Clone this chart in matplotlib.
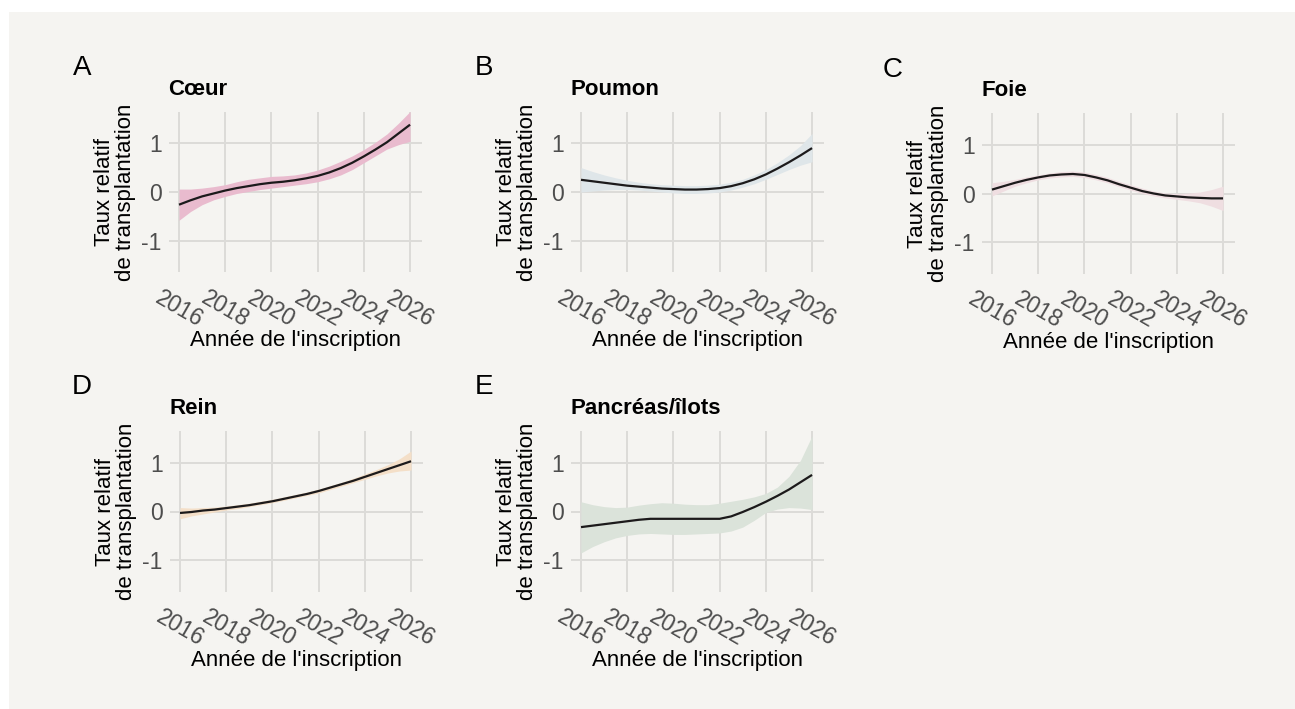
import matplotlib
matplotlib.use('Agg')
import matplotlib.pyplot as plt
from matplotlib.patches import Rectangle

# Palette
_BG = '#f5f4f1'
_GRID = '#dcdbd8'
_TICK = '#4d4d4d'
_LINE = '#1c1a1b'

plt.rcParams['font.family'] = ['Liberation Sans', 'DejaVu Sans']
plt.rcParams['axes.unicode_minus'] = False

years = [2016 + 0.5 * i for i in range(21)]
x_ticks = [2016, 2018, 2020, 2022, 2024, 2026]
y_ticks = [-1, 0, 1]

tags = ['A', 'B', 'C', 'D', 'E']
organs = ['Cœur', 'Poumon', 'Foie', 'Rein', 'Pancréas/îlots']
fills = ['#e9bbce', '#dfe6e9', '#efdee1', '#f4dfc8', '#dbe3da']

coeur = [-0.26, -0.17, -0.09, -0.03, 0.03, 0.08, 0.12, 0.16, 0.19, 0.21, 0.24,
         0.28, 0.33, 0.40, 0.49, 0.60, 0.73, 0.87, 1.02, 1.20, 1.38]
coeur_lo = [-0.58, -0.40, -0.26, -0.16, -0.09, -0.03, 0.01, 0.05, 0.08, 0.11, 0.14,
            0.17, 0.21, 0.27, 0.35, 0.46, 0.60, 0.74, 0.88, 0.97, 1.04]
coeur_hi = [0.06, 0.06, 0.08, 0.11, 0.15, 0.21, 0.26, 0.29, 0.32, 0.33, 0.35,
            0.39, 0.45, 0.53, 0.63, 0.74, 0.87, 1.02, 1.19, 1.41, 1.65]

poumon = [0.25, 0.22, 0.19, 0.16, 0.13, 0.11, 0.09, 0.07, 0.06, 0.05, 0.05,
          0.06, 0.08, 0.12, 0.18, 0.26, 0.36, 0.48, 0.61, 0.75, 0.90]
poumon_lo = [0.0, 0.02, 0.04, 0.05, 0.05, 0.04, 0.02, 0.0, -0.02, -0.03, -0.03,
             -0.02, 0.0, 0.04, 0.10, 0.17, 0.26, 0.36, 0.46, 0.55, 0.62]
poumon_hi = [0.50, 0.42, 0.35, 0.29, 0.24, 0.20, 0.17, 0.15, 0.14, 0.13, 0.13,
             0.14, 0.16, 0.20, 0.26, 0.35, 0.46, 0.60, 0.76, 0.95, 1.20]

foie = [0.08, 0.15, 0.22, 0.28, 0.33, 0.37, 0.39, 0.40, 0.38, 0.33, 0.27,
        0.19, 0.12, 0.05, 0.0, -0.04, -0.06, -0.08, -0.09, -0.10, -0.10]
foie_lo = [-0.05, 0.05, 0.15, 0.22, 0.28, 0.32, 0.34, 0.35, 0.33, 0.28, 0.22,
           0.14, 0.07, 0.0, -0.05, -0.09, -0.12, -0.15, -0.19, -0.26, -0.35]
foie_hi = [0.22, 0.25, 0.29, 0.34, 0.38, 0.42, 0.45, 0.46, 0.44, 0.39, 0.33,
           0.25, 0.18, 0.11, 0.05, 0.01, 0.0, 0.01, 0.03, 0.08, 0.15]

rein = [-0.03, -0.01, 0.02, 0.04, 0.07, 0.10, 0.13, 0.17, 0.21, 0.26, 0.31,
        0.36, 0.42, 0.49, 0.56, 0.63, 0.71, 0.79, 0.87, 0.95, 1.03]
rein_lo = [-0.15, -0.09, -0.05, -0.01, 0.03, 0.06, 0.10, 0.14, 0.18, 0.23, 0.28,
           0.33, 0.38, 0.45, 0.52, 0.59, 0.66, 0.73, 0.79, 0.83, 0.85]
rein_hi = [0.08, 0.07, 0.08, 0.09, 0.11, 0.14, 0.17, 0.21, 0.25, 0.30, 0.35,
           0.40, 0.46, 0.53, 0.60, 0.68, 0.77, 0.86, 0.96, 1.08, 1.24]

pancreas = [-0.32, -0.29, -0.26, -0.23, -0.20, -0.17, -0.15, -0.15, -0.15, -0.15, -0.15,
            -0.15, -0.15, -0.10, -0.01, 0.09, 0.20, 0.32, 0.45, 0.60, 0.75]
pancreas_lo = [-0.85, -0.72, -0.62, -0.54, -0.49, -0.46, -0.45, -0.46, -0.47, -0.47, -0.46,
               -0.45, -0.44, -0.40, -0.32, -0.18, -0.02, 0.05, 0.08, 0.07, 0.04]
pancreas_hi = [0.20, 0.14, 0.10, 0.08, 0.09, 0.13, 0.16, 0.18, 0.17, 0.15, 0.14,
               0.14, 0.17, 0.21, 0.25, 0.30, 0.37, 0.50, 0.72, 1.05, 1.55]

fits = [coeur, poumon, foie, rein, pancreas]
lows = [coeur_lo, poumon_lo, foie_lo, rein_lo, pancreas_lo]
highs = [coeur_hi, poumon_hi, foie_hi, rein_hi, pancreas_hi]

# layout in pixels: (panel left, panel top, tag x, tag baseline)
W, H = 1295, 709
_PANEL_W, _PANEL_H = 253, 161
_LAYOUT = [
    (168.6, 111.5, 73, 75),
    (570.6, 111.5, 475, 75),
    (981.6, 113.0, 883, 77),
    (169.6, 431.0, 72, 394),
    (570.6, 431.0, 475, 394),
]

fig = plt.figure(figsize=(W / 100, H / 100), dpi=100)
fig.patch.set_facecolor('white')
fig.patches.append(Rectangle((9 / W, -0.05), 1.1, 1.05 - 12 / H, transform=fig.transFigure,
                             facecolor=_BG, edgecolor='none', zorder=-10))

for i, organ in enumerate(organs):
    left, top, tx, ty = _LAYOUT[i]
    ax = fig.add_axes([left / W, 1 - (top + _PANEL_H) / H, _PANEL_W / W, _PANEL_H / H])
    ax.set_facecolor('none')
    ax.fill_between(years, lows[i], highs[i], color=fills[i], lw=0, zorder=2)
    ax.plot(years, fits[i], color=_LINE, lw=1.6, zorder=3, solid_capstyle='butt')

    ax.set_xlim(2015.55, 2026.5)
    ax.set_ylim(-1.65, 1.65)
    ax.set_xticks(x_ticks)
    ax.set_yticks(y_ticks)
    ax.grid(True, color=_GRID, linewidth=1.4, zorder=0)
    ax.set_axisbelow(True)
    for side in ax.spines.values():
        side.set_visible(False)

    ax.tick_params(axis='both', length=0, labelsize=16.5, labelcolor=_TICK)
    ax.tick_params(axis='y', pad=5)
    ax.tick_params(axis='x', pad=10)
    for lbl in ax.get_xticklabels():
        lbl.set_rotation(-30)
        lbl.set_ha('center')
        lbl.set_va('top')

    ax.set_xlabel("Année de l'inscription", fontsize=16, labelpad=-1)
    ax.set_ylabel('Taux relatif\nde transplantation', fontsize=16, labelpad=4,
                  linespacing=1.0)
    ax.set_title(organ, loc='left', fontsize=16, fontweight='bold', pad=12)

    fig.text(tx / W, 1 - ty / H, tags[i], fontsize=20, va='baseline', ha='left')

fig.savefig('out.png', dpi=100, facecolor='white')
plt.close(fig)
